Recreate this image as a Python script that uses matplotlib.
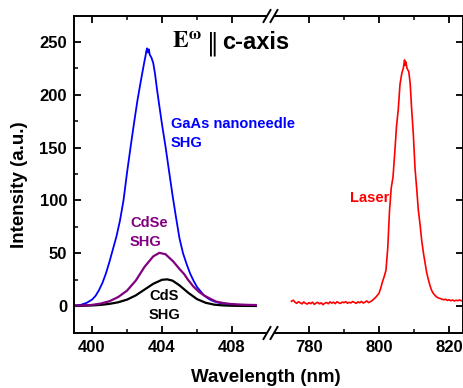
import numpy as np
import matplotlib
matplotlib.use("Agg")
import matplotlib.pyplot as plt
from matplotlib.lines import Line2D

plt.rcParams['font.family'] = ['Liberation Sans', 'DejaVu Sans']
plt.rcParams['font.weight'] = 'bold'
plt.rcParams['mathtext.fontset'] = 'stix'

# ---------------- data ----------------
gaas_x = [399.0, 399.35, 399.7, 400.0, 400.2, 400.4, 400.6, 400.8, 401.0, 401.2,
          401.4, 401.6, 401.8, 402.0, 402.2, 402.4, 402.6, 402.8, 403.0, 403.05,
          403.1, 403.15, 403.2, 403.25, 403.3, 403.4, 403.5, 403.6, 403.7, 403.8,
          404.0, 404.2, 404.4, 404.6, 404.8, 405.0, 405.2, 405.4, 405.6, 405.8,
          406.0, 406.2, 406.4, 406.6, 406.8, 407.0, 407.2, 407.5, 408.0, 408.5,
          409.0, 409.36]
gaas_y = [0.5, 1.0, 3.0, 6.0, 9.5, 15, 22, 31, 42, 54,
          66, 81, 100, 126, 150, 173, 195, 214, 232, 236,
          241, 244, 240, 243, 238, 235, 230, 220, 207, 195,
          172, 151, 128, 105, 84, 64, 50, 40, 31, 24,
          18, 14, 10, 7.5, 5.5, 4.2, 3.2, 2.2, 1.3, 0.8,
          0.6, 0.5]

cdse_x = [399.0, 399.5, 400.0, 400.5, 401.0, 401.5, 402.0, 402.5, 403.0, 403.5,
          403.85, 404.2, 404.65, 405.0, 405.25, 405.5, 405.8, 406.1, 406.4, 406.8,
          407.1, 407.5, 407.9, 408.5, 409.0, 409.36]
cdse_y = [0.3, 0.5, 1.0, 2.3, 4.5, 8.5, 14.5, 24, 37, 47,
          50.3, 49, 42, 35, 30.5, 24.5, 18.3, 13.5, 10, 6.5,
          4.1, 2.8, 1.9, 1.3, 1.0, 0.9]

cds_x = [399.0, 399.5, 400.0, 400.5, 401.0, 401.5, 402.0, 402.5, 403.0, 403.5,
         404.0, 404.3, 404.6, 405.0, 405.5, 406.0, 406.5, 407.0, 407.5, 408.0,
         408.5, 409.36]
cds_y = [0.0, 0.2, 0.5, 1.0, 2.0, 3.5, 6.0, 10.0, 15.5, 21.0,
         24.8, 25.2, 24.0, 19.5, 12.5, 6.5, 3.0, 1.2, 0.5, 0.2,
         0.1, 0.0]

laser_x = [775.0, 775.5, 776.0, 776.5, 777.0, 777.5, 778.0, 778.5, 779.0, 779.5,
           780.0, 780.5, 781.0, 781.5, 782.0, 782.5, 783.0, 783.5, 784.0, 784.5,
           785.0, 785.5, 786.0, 786.5, 787.0, 787.5, 788.0, 788.5, 789.0, 789.5,
           790.0, 790.5, 791.0, 791.5, 792.0, 792.5, 793.0, 793.5, 794.0, 794.5,
           795.0, 795.5, 796.0, 796.5, 797.0, 797.5, 798.0, 798.5, 799.0, 799.5,
           800.0, 800.5, 801.0, 801.5, 802.0, 802.5, 803.0, 803.5, 804.0, 804.5,
           805.0, 805.5, 806.0, 806.5, 807.0, 807.3, 807.5, 807.7, 808.0, 808.5,
           808.9, 809.3, 809.8, 810.3, 810.8, 811.2, 811.7, 812.2, 812.7, 813.1,
           813.6, 814.1, 814.6, 815.0, 815.5, 816.0, 816.5, 817.0, 817.5, 818.0,
           818.5, 819.0, 819.5, 820.0, 820.5, 821.0, 821.5, 822.0, 822.5, 823.0,
           823.5, 824.0, 824.5]
laser_y = [4.5, 5.5, 3.5, 2.5, 4.0, 3.0, 2.0, 3.8, 2.5, 1.8,
           3.2, 2.2, 3.6, 1.5, 2.8, 3.4, 2.0, 3.0, 1.2, 2.6,
           3.3, 2.1, 3.9, 2.7, 3.6, 2.2, 4.0, 3.0, 2.4, 3.7,
           3.1, 4.1, 2.6, 3.5, 2.9, 4.2, 3.3, 2.5, 3.9, 3.0,
           4.3, 2.8, 3.6, 4.8, 3.2, 4.0, 5.0, 6.5, 8.0, 10.0,
           12, 17, 23, 28, 34, 55, 90, 112, 122, 145,
           170, 186, 210, 220, 226, 233, 228, 231, 225, 222,
           211, 188, 163, 130, 110, 92, 78, 62, 50, 42,
           32, 25, 19, 15, 12, 10, 8.5, 7.5, 7.0, 6.5,
           5.8, 6.4, 5.2, 5.9, 5.0, 5.6, 4.8, 5.4, 5.0, 5.7,
           4.9, 5.3, 5.0]

left_xticks = [400, 404, 408]
left_xminor = [402, 406]
right_xticks = [780, 800, 820]
right_xminor = [790, 810]
yticks = [0, 50, 100, 150, 200, 250]
yminor = [25, 75, 125, 175, 225]

# ---------------- layout ----------------
W, H = 464, 388
fig = plt.figure(figsize=(W / 100, H / 100), dpi=100)

def rect(x0, x1, y0, y1):
    return [x0 / W, 1 - y1 / H, (x1 - x0) / W, (y1 - y0) / H]

top_px, bot_px = 16, 333
ax1 = fig.add_axes(rect(74, 266, top_px, bot_px))
ax2 = fig.add_axes(rect(275, 463, top_px, bot_px))

ylo, yhi = -25.6, 274.6
for ax in (ax1, ax2):
    ax.set_ylim(ylo, yhi)
    ax.patch.set_alpha(0)

ax1.set_xlim(400 - (92 - 74) / 17.5, 400 + (266 - 92) / 17.5)
ax2.set_xlim(780 - (309 - 275) / 3.5, 820 + (463 - 449) / 3.5)

ax1.plot(gaas_x, gaas_y, color='#0000ff', lw=1.3)
ax1.plot(cds_x, cds_y, color='black', lw=1.6)
ax1.plot(cdse_x, cdse_y, color='#800080', lw=1.6)
ax2.plot(laser_x, laser_y, color='#ff0000', lw=1.2)

sw = 1.4
for ax in (ax1, ax2):
    for s in ax.spines.values():
        s.set_linewidth(sw)
ax1.spines['right'].set_visible(False)
ax2.spines['left'].set_visible(False)

ax1.set_xticks(left_xticks)
ax1.set_xticks(left_xminor, minor=True)
ax2.set_xticks(right_xticks)
ax2.set_xticks(right_xminor, minor=True)
for ax in (ax1, ax2):
    ax.set_yticks(yticks)
ax1.set_yticks(yminor, minor=True)

ax1.tick_params(axis='x', which='both', direction='in', top=True, bottom=True)
ax2.tick_params(axis='x', which='both', direction='in', top=True, bottom=True)
ax1.tick_params(axis='y', which='both', direction='in', left=True, right=False)
ax2.tick_params(axis='y', which='both', direction='in', left=False, right=True,
                labelleft=False, labelright=False)
for ax in (ax1, ax2):
    ax.tick_params(which='major', length=5, width=1.3, labelsize=12, pad=5)
    ax.tick_params(which='minor', length=3, width=1.1)
    for lab in ax.get_xticklabels() + ax.get_yticklabels():
        lab.set_fontweight('bold')

fig.text(20 / W, 1 - 185 / H, 'Intensity (a.u.)', rotation=90, fontsize=13.5,
         fontweight='bold', ha='center', va='center')
fig.text(266 / W, 1 - 378 / H, 'Wavelength (nm)', fontsize=13.5,
         fontweight='bold', ha='center', va='center')

# break marks
def brk(xc, yc):
    for dx in (-3.5, 3.5):
        x0, y0 = xc + dx - 3.5, yc + 6
        x1, y1 = xc + dx + 3.5, yc - 6
        fig.add_artist(Line2D([x0 / W, x1 / W], [1 - y0 / H, 1 - y1 / H],
                              color='black', lw=1.4))
brk(270.5, top_px)
brk(270.5, bot_px)

# title-like annotation
fig.text(172 / W, 1 - 49 / H, r'$\mathbf{E}^{\mathbf{\omega}}$', fontsize=17,
         ha='left', va='baseline')
fig.text(207 / W, 1 - 49 / H, '\u2016', fontsize=17, family=['DejaVu Serif'],
         fontweight='normal', ha='left', va='baseline')
fig.text(222 / W, 1 - 49 / H, 'c-axis', fontsize=17,
         fontweight='bold', ha='left', va='baseline')

fig.text(171 / W, 1 - 124 / H, 'GaAs nanoneedle', color='#0000ff', fontsize=10.5,
         fontweight='bold', ha='left', va='center')
fig.text(171 / W, 1 - 143 / H, 'SHG', color='#0000ff', fontsize=10.5,
         fontweight='bold', ha='left', va='center')
fig.text(130 / W, 1 - 223 / H, 'CdSe', color='#800080', fontsize=10.5,
         fontweight='bold', ha='left', va='center')
fig.text(130 / W, 1 - 242 / H, 'SHG', color='#800080', fontsize=10.5,
         fontweight='bold', ha='left', va='center')
fig.text(149 / W, 1 - 296 / H, 'CdS', color='black', fontsize=10.5,
         fontweight='bold', ha='left', va='center')
fig.text(149 / W, 1 - 315 / H, 'SHG', color='black', fontsize=10.5,
         fontweight='bold', ha='left', va='center')
fig.text(350 / W, 1 - 198 / H, 'Laser', color='#ff0000', fontsize=10.5,
         fontweight='bold', ha='left', va='center')

fig.savefig('out.png', dpi=100)
